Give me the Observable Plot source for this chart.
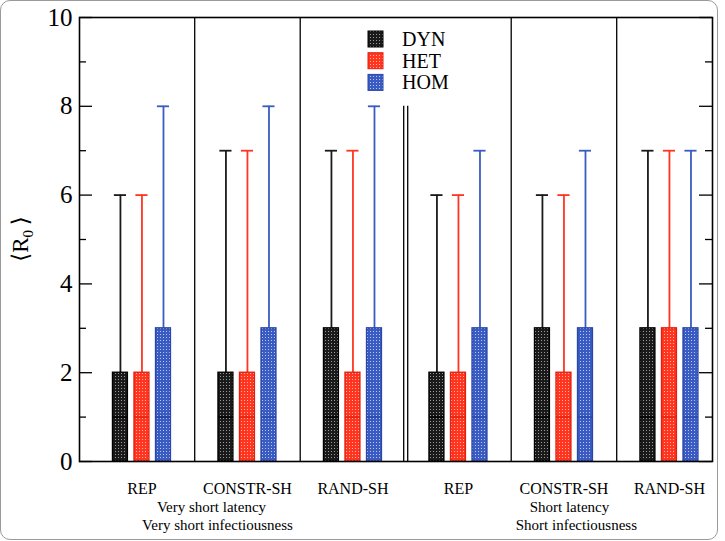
<!DOCTYPE html>
<html><head><meta charset="utf-8">
<script src="https://cdn.jsdelivr.net/npm/d3@7"></script>
<script src="https://cdn.jsdelivr.net/npm/@observablehq/plot@0.6"></script>
<style>
html,body{margin:0;padding:0;background:#fff;}
#wrap{position:relative;width:725px;height:541px;overflow:hidden;}
#wrap svg{position:absolute;left:0;top:0;}
#border{position:absolute;left:0;top:0;width:718px;height:540px;box-sizing:border-box;border:1px solid #9a9a9a;border-radius:10px;pointer-events:none;}
</style></head><body>
<div id="wrap"><div id="border"></div></div>
<script>
// ---- data ----
const groups = ["REP", "CONSTR-SH", "RAND-SH", "REP", "CONSTR-SH", "RAND-SH"];
const series = ["DYN", "HET", "HOM"];
const dynMin = [0, 0, 0, 0, 0, 0];
const hetMin = [0, 0, 0, 0, 0, 0];
const homMin = [0, 0, 0, 0, 0, 0];
const dynMedian = [1, 1, 1, 1, 1, 1];
const hetMedian = [1, 1, 1, 1, 1, 1];
const homMedian = [1, 1, 1, 1, 1, 1];
const dynQ3 = [2, 2, 3, 2, 3, 3];
const hetQ3 = [2, 2, 2, 2, 2, 3];
const homQ3 = [3, 3, 3, 3, 3, 3];
const dynMax = [6, 7, 7, 6, 6, 7];
const hetMax = [6, 7, 7, 6, 6, 7];
const homMax = [8, 8, 8, 7, 7, 7];
const yTicks = [0, 2, 4, 6, 8, 10];
const yMinorTicks = [1, 3, 5, 7, 9];
const latencyLabels = ["Very short latency", "Short latency"];
const infectLabels = ["Very short infectiousness", "Short infectiousness"];

// ---- styles / layout ----
const seriesColor = {DYN: "#1a1a1a", HET: "#ff3520", HOM: "#3a5cc2"};
const seriesDark = {DYN: "#000000", HET: "#e02010", HOM: "#2a46a8"};
const seriesDot = {DYN: "#9a9a9a", HET: "#ffb3a6", HOM: "#b9c8f2"};
const slot = 0.204, boxW = 0.142, capW = 0.115;
const latencyX = [0.659, 4.052];
const infectX = [0.716, 4.118];

const mins = [dynMin, hetMin, homMin];
const meds = [dynMedian, hetMedian, homMedian];
const q3s = [dynQ3, hetQ3, homQ3];
const maxs = [dynMax, hetMax, homMax];
const rows = [];
series.forEach((s, j) => groups.forEach((g, i) => rows.push({
  series: s, j, group: i, label: g,
  q1: mins[j][i], median: meds[j][i], q3: q3s[j][i], max: maxs[j][i]
})));
const cx = d => d.group + (d.j - 1) * slot;

const dividers = [];
for (let i = 0; i < groups.length - 1; i++) if (i !== 2) dividers.push(i + 0.5);
const breakLines = [2.5 - 0.019, 2.5 + 0.019];

const font = "'Liberation Serif', 'DejaVu Serif', 'Noto Serif', Tinos, 'Times New Roman', Times, serif";

const plot = Plot.plot({
  width: 725, height: 541,
  marginLeft: 79, marginRight: 13, marginTop: 17, marginBottom: 80,
  style: {fontFamily: font, color: "black", background: "transparent"},
  x: {domain: [-0.592, 5.408], axis: null},
  y: {domain: [0, 10], axis: null},
  color: {type: "identity"},
  marks: [
    Plot.ruleX(dividers, {x: d => d, y1: 0, y2: 10, stroke: "black", strokeWidth: 1.3}),
    Plot.ruleX(breakLines, {x: d => d, y1: 0, y2: 8, stroke: "black", strokeWidth: 1.3}),
    Plot.ruleX(rows, {x: cx, y1: "q3", y2: "max", stroke: d => seriesColor[d.series], strokeWidth: 1.8}),
    Plot.ruleY(rows, {y: "max", x1: d => cx(d) - capW / 2, x2: d => cx(d) + capW / 2, stroke: d => seriesColor[d.series], strokeWidth: 1.8}),
    Plot.rect(rows, {x1: d => cx(d) - boxW / 2, x2: d => cx(d) + boxW / 2, y1: "q1", y2: "q3",
      fill: d => `url(#pat-${d.series})`, stroke: d => seriesDark[d.series], strokeWidth: 1.3}),
    Plot.ruleY(rows, {y: "median", x1: d => cx(d) - boxW / 2, x2: d => cx(d) + boxW / 2, stroke: d => seriesDark[d.series], strokeWidth: 1.3}),
    Plot.tickY(yTicks, {y: d => d, insetRight: 620, stroke: "black", strokeWidth: 1.3}),
    Plot.tickY(yTicks, {y: d => d, insetLeft: 620, stroke: "black", strokeWidth: 1.3}),
    Plot.tickY(yMinorTicks, {y: d => d, insetRight: 626, stroke: "black", strokeWidth: 1.3}),
    Plot.tickY(yMinorTicks, {y: d => d, insetLeft: 626, stroke: "black", strokeWidth: 1.3}),
    Plot.frame({stroke: "black", strokeWidth: 1.6}),
    Plot.axisY(yTicks, {tickSize: 0, tickPadding: 7, fontSize: 25, label: null, fontFamily: font}),
    Plot.axisX(groups.map((g, i) => i), {tickSize: 0, tickPadding: 21, fontSize: 16, label: null, fontFamily: font, tickFormat: i => groups[i]}),
    Plot.text(latencyLabels, {x: (d, i) => latencyX[i], frameAnchor: "bottom", dy: 50, text: d => d, fontSize: 15, fontFamily: font}),
    Plot.text(infectLabels, {x: (d, i) => infectX[i], frameAnchor: "bottom", dy: 68, text: d => d, fontSize: 15, fontFamily: font})
  ]
});

document.getElementById("wrap").insertBefore(plot, document.getElementById("border"));

const svg = d3.select(plot);
const defs = svg.insert("defs", ":first-child");
series.forEach(s => {
  const p = defs.append("pattern").attr("id", `pat-${s}`).attr("patternUnits", "userSpaceOnUse")
    .attr("width", 3).attr("height", 3);
  p.append("rect").attr("width", 3).attr("height", 3).attr("fill", seriesColor[s]);
  p.append("rect").attr("x", 1).attr("y", 1).attr("width", 1).attr("height", 1).attr("fill", seriesDot[s]);
});

// legend
const leg = svg.append("g").attr("font-family", font).attr("font-size", 20).attr("fill", "black")
  .attr("text-anchor", "start");
series.forEach((s, k) => {
  const cy = 39 + k * 21.7;
  leg.append("rect").attr("x", 368).attr("y", cy - 8).attr("width", 15).attr("height", 16)
    .attr("fill", `url(#pat-${s})`).attr("stroke", seriesDark[s]).attr("stroke-width", 1);
  leg.append("text").attr("x", 402).attr("y", cy + 7).text(s);
});

// y-axis label
const yl = svg.append("text").attr("transform", "translate(28,239) rotate(-90)")
  .attr("text-anchor", "middle").attr("font-family", font).attr("font-size", 23).attr("fill", "black");
yl.append("tspan").text("\u27E8R");
yl.append("tspan").attr("font-size", 15).attr("dy", 5).text("0");
yl.append("tspan").attr("dy", -5).text("\u2009\u27E9");
</script>
</body></html>
